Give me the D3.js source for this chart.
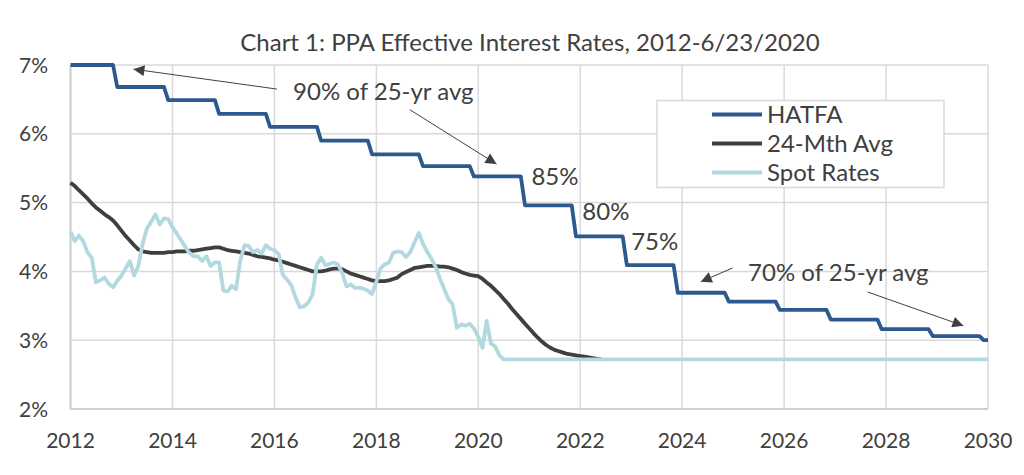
<!DOCTYPE html>
<html>
<head>
<meta charset="utf-8">
<script src="https://cdn.jsdelivr.net/npm/d3@7"></script>
<style>
  html, body { margin: 0; padding: 0; background: #fff; }
  svg { display: block; font-family: Lato, "Open Sans", sans-serif; }
</style>
</head>
<body>
<svg id="chart" width="1024" height="475"></svg>
<script>
// ---------------- DATA ----------------
const title = "Chart 1: PPA Effective Interest Rates, 2012-6/23/2020";
const yTicks = [2, 3, 4, 5, 6, 7];
const xTickYears = [2012, 2014, 2016, 2018, 2020, 2022, 2024, 2026, 2028, 2030];
const seriesNames = ["HATFA", "24-Mth Avg", "Spot Rates"];

// HATFA step rates: each rate begins in December of the prior year (first one in Jan 2012)
const hatfaStartYears = [2012, 2012, 2013, 2014, 2015, 2016, 2017, 2018, 2019, 2020, 2021, 2022, 2023, 2024, 2025, 2026, 2027, 2028, 2029];
const hatfaRates      = [7.00, 6.68, 6.49, 6.29, 6.10, 5.90, 5.70, 5.53, 5.38, 4.96, 4.51, 4.09, 3.69, 3.56, 3.44, 3.30, 3.16, 3.06, 3.00];
const hatfaEnd = [2030, 0];   // line ends Jan 2030

// Monthly spot rates, Jan 2012 - Jul 2020
const spotRates = [
  4.58,4.44,4.52,4.44,4.28,4.20,3.84,3.87,3.91,3.82,3.77,3.86,
  3.94,4.05,4.15,3.94,4.08,4.40,4.62,4.72,4.83,4.68,4.77,4.76,
  4.64,4.55,4.46,4.36,4.27,4.22,4.22,4.15,4.22,4.08,4.13,4.13,
  3.72,3.71,3.79,3.74,4.15,4.38,4.37,4.28,4.31,4.26,4.38,4.33,
  4.31,4.25,3.95,3.88,3.80,3.62,3.48,3.49,3.55,3.67,4.10,4.20,
  4.09,4.11,4.13,4.10,3.98,3.78,3.81,3.76,3.76,3.75,3.72,3.67,
  3.85,4.05,4.10,4.13,4.27,4.29,4.28,4.21,4.28,4.42,4.56,4.40,
  4.28,4.18,4.07,3.90,3.75,3.60,3.52,3.18,3.23,3.21,3.24,3.17,
  3.05,2.89,3.28,2.95,2.91,2.78,2.72
];
const spotProjected = { rate: 2.72, untilYear: 2030 };

// Monthly 24-month average, Jan 2012 - Jun 2022
const avg24 = [
  5.29,5.24,5.18,5.12,5.06,4.99,4.93,4.88,4.83,4.79,4.74,4.67,
  4.59,4.51,4.45,4.38,4.32,4.29,4.28,4.27,4.27,4.27,4.27,4.28,
  4.28,4.29,4.29,4.29,4.30,4.30,4.31,4.32,4.33,4.34,4.35,4.35,
  4.33,4.31,4.30,4.29,4.28,4.27,4.26,4.24,4.22,4.21,4.20,4.19,
  4.17,4.16,4.14,4.12,4.10,4.08,4.06,4.04,4.02,4.00,4.00,4.00,
  4.01,4.03,4.04,4.04,4.03,4.00,3.97,3.95,3.93,3.91,3.89,3.87,
  3.86,3.86,3.86,3.87,3.89,3.91,3.96,3.99,4.02,4.05,4.06,4.07,
  4.08,4.08,4.08,4.07,4.07,4.06,4.04,4.02,3.99,3.97,3.95,3.94,
  3.93,3.89,3.84,3.79,3.73,3.67,3.60,3.53,3.45,3.38,3.31,3.24,
  3.17,3.10,3.04,2.98,2.93,2.89,2.86,2.84,2.82,2.80,2.79,2.78,
  2.77,2.76,2.75,2.74,2.73,2.72
];

// Annotations (in data units: [year, month], rate)
const labels = [
  { text: "90% of 25-yr avg", at: [2016, 4.4], rate: 6.49 },
  { text: "85%", at: [2021, 0.5], rate: 5.26 },
  { text: "80%", at: [2022, 0.5], rate: 4.75 },
  { text: "75%", at: [2023, 0], rate: 4.31 },
  { text: "70% of 25-yr avg", at: [2025, 3.5], rate: 3.86 }
];
const arrows = [
  { from: [[2016, 0.6], 6.65], to: [[2013, 2.8], 6.94] },
  { from: [[2018, 7.9], 6.35], to: [[2020, 4.3], 5.56] },
  { from: [[2024, 11.9], 4.05], to: [[2024, 4.4], 3.85] },
  { from: [[2027, 7.7], 3.70], to: [[2029, 6.2], 3.21] }
];

// ---------------- BUILD SERIES ----------------
const ym = (a) => new Date(a[0], 0, 1 + Math.round(a[1] * 30.44));

const spotData = spotRates.map((v, i) => ({ d: new Date(2012, i, 1), v }));
spotData.push({ d: new Date(spotProjected.untilYear, 0, 1), v: spotProjected.rate });
const avgData = avg24.map((v, i) => ({ d: new Date(2012, i, 1), v }));

const hatfaData = [];
hatfaRates.forEach((v, k) => {
  const start = k === 0 ? new Date(hatfaStartYears[k], 0, 1) : new Date(hatfaStartYears[k], 11, 1);
  const end = k < hatfaRates.length - 1 ? new Date(hatfaStartYears[k + 1], 10, 1) : new Date(hatfaEnd[0], hatfaEnd[1], 1);
  hatfaData.push({ d: start, v });
  hatfaData.push({ d: end, v });
});

// ---------------- CHART ----------------
const svg = d3.select("#chart");
const L = 70.5, R = 988, T = 65, B = 409;

const x = d3.scaleTime().domain([new Date(2012, 0, 1), new Date(2030, 0, 1)]).range([L, R]);
const y = d3.scaleLinear().domain([2, 7]).range([B, T]);

const grid = "#d9d9d9", textCol = "#404040";

// horizontal gridlines
svg.append("g").selectAll("line").data(yTicks).join("line")
  .attr("x1", L).attr("x2", R)
  .attr("y1", d => y(d)).attr("y2", d => y(d))
  .attr("stroke", grid).attr("stroke-width", 1.5);
// vertical gridlines
svg.append("g").selectAll("line").data(xTickYears).join("line")
  .attr("x1", d => x(new Date(d, 0, 1))).attr("x2", d => x(new Date(d, 0, 1)))
  .attr("y1", T).attr("y2", B)
  .attr("stroke", grid).attr("stroke-width", 1.5);
// axis lines
svg.append("line").attr("x1", L).attr("x2", R).attr("y1", B).attr("y2", B)
  .attr("stroke", "#cfcfcf").attr("stroke-width", 2);
svg.append("line").attr("x1", L).attr("x2", L).attr("y1", T).attr("y2", B)
  .attr("stroke", "#cfcfcf").attr("stroke-width", 2);

// y tick labels
svg.append("g").selectAll("text").data(yTicks).join("text")
  .attr("x", 48).attr("y", d => y(d) + 7.5)
  .attr("text-anchor", "end")
  .attr("font-size", 21).attr("fill", textCol)
  .text(d => d + "%");
// x tick labels
svg.append("g").selectAll("text").data(xTickYears).join("text")
  .attr("x", d => x(new Date(d, 0, 1))).attr("y", 447.5)
  .attr("text-anchor", "middle")
  .attr("font-size", 21).attr("fill", textCol)
  .text(d => d3.timeFormat("%Y")(new Date(d, 0, 1)));

// title
svg.append("text").attr("x", 530).attr("y", 51)
  .attr("text-anchor", "middle").attr("font-size", 24).attr("fill", textCol)
  .text(title);

// lines
const line = d3.line().x(d => x(d.d)).y(d => y(d.v));
const colors = ["#2c5a8e", "#3f3f3f", "#b2d9df"];
svg.append("path").datum(hatfaData).attr("d", line)
  .attr("fill", "none").attr("stroke", colors[0]).attr("stroke-width", 3.8).attr("stroke-linejoin", "round");
svg.append("path").datum(avgData).attr("d", line)
  .attr("fill", "none").attr("stroke", colors[1]).attr("stroke-width", 3.8).attr("stroke-linejoin", "round");
svg.append("path").datum(spotData).attr("d", line)
  .attr("fill", "none").attr("stroke", colors[2]).attr("stroke-width", 3.8).attr("stroke-linejoin", "round");

// annotations
svg.append("defs").append("marker")
  .attr("id", "arrowhead").attr("viewBox", "0 0 10 10")
  .attr("refX", 10).attr("refY", 5)
  .attr("markerWidth", 15).attr("markerHeight", 11)
  .attr("markerUnits", "userSpaceOnUse")
  .attr("orient", "auto")
  .append("path").attr("d", "M0,0 L10,5 L0,10 Z").attr("fill", "#404040");

svg.append("g").selectAll("line").data(arrows).join("line")
  .attr("x1", d => x(ym(d.from[0]))).attr("y1", d => y(d.from[1]))
  .attr("x2", d => x(ym(d.to[0]))).attr("y2", d => y(d.to[1]))
  .attr("stroke", "#404040").attr("stroke-width", 1)
  .attr("marker-end", "url(#arrowhead)");

svg.append("g").selectAll("text").data(labels).join("text")
  .attr("x", d => x(ym(d.at))).attr("y", d => y(d.rate))
  .attr("font-size", 24).attr("fill", textCol)
  .text(d => d.text);

// legend
const lg = svg.append("g");
lg.append("rect").attr("x", 657).attr("y", 100.5).attr("width", 287).attr("height", 87)
  .attr("fill", "#fff").attr("stroke", "#d9d9d9").attr("stroke-width", 1.5);
seriesNames.forEach((name, i) => {
  const cy = 114.5 + i * 29;
  lg.append("line").attr("x1", 712).attr("x2", 762).attr("y1", cy).attr("y2", cy)
    .attr("stroke", colors[i]).attr("stroke-width", 3.8);
  lg.append("text").attr("x", 767).attr("y", cy + 8.5)
    .attr("font-size", 24).attr("fill", textCol).text(name);
});
</script>
</body>
</html>
